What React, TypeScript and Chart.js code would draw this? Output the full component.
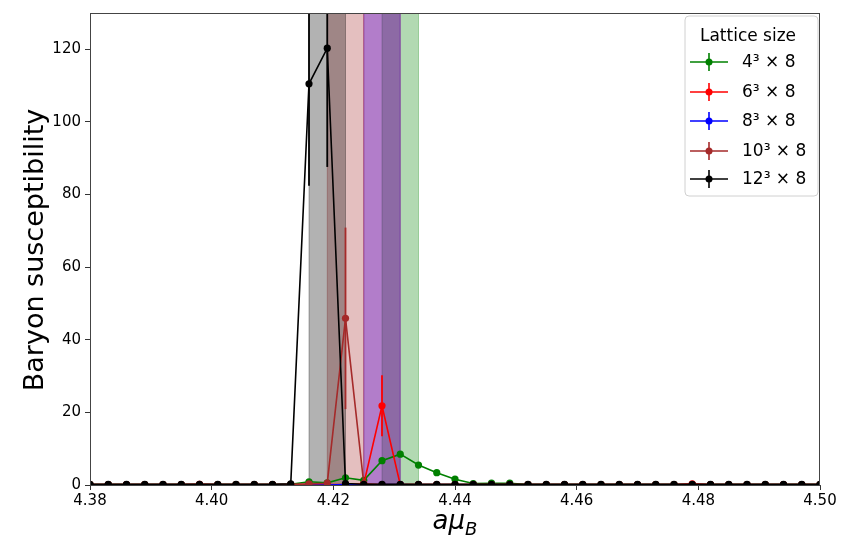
import { useEffect, useRef } from "react";
import { Chart, registerables } from "chart.js";
Chart.register(...registerables);

const muB = [
  4.380, 4.383, 4.386, 4.389, 4.392, 4.395, 4.398, 4.401, 4.404, 4.407,
  4.410, 4.413, 4.416, 4.419, 4.422, 4.425, 4.428, 4.431, 4.434, 4.437,
  4.440, 4.443, 4.446, 4.449, 4.452, 4.455, 4.458, 4.461, 4.464, 4.467,
  4.470, 4.473, 4.476, 4.479, 4.482, 4.485, 4.488, 4.491, 4.494, 4.497, 4.500,
];

const chi4 = [
  0.1, 0.1, 0.1, 0.1, 0.1, 0.1, 0.1, 0.1, 0.1, 0.1,
  0.1, 0.2, 0.9, 0.6, 2.0, 1.3, 6.7, 8.5, 5.5, 3.4,
  1.6, 0.4, 0.5, 0.5, 0.1, 0.1, 0.1, 0.1, 0.1, 0.1,
  0.1, 0.1, 0.1, 0.1, 0.1, 0.1, 0.1, 0.1, 0.1, 0.1, 0.1,
];
const err4 = [
  0, 0, 0, 0, 0, 0, 0, 0, 0, 0,
  0, 0, 0.2, 0.2, 0.4, 0.3, 0.5, 0.6, 0.6, 0.4,
  0.2, 0.1, 0.1, 0.1, 0, 0, 0, 0, 0, 0,
  0, 0, 0, 0, 0, 0, 0, 0, 0, 0, 0,
];

const chi6 = [
  0.1, 0.1, 0.1, 0.1, 0.1, 0.1, 0.2, 0.1, 0.1, 0.1,
  0.1, 0.1, 0.1, 0.1, 0.1, 0.3, 21.8, 0.1, 0.1, 0.1,
  0.1, 0.1, 0.1, 0.1, 0.1, 0.1, 0.1, 0.1, 0.1, 0.1,
  0.1, 0.1, 0.1, 0.3, 0.1, 0.1, 0.1, 0.1, 0.1, 0.1, 0.1,
];
const err6 = [
  0, 0, 0, 0, 0, 0, 0, 0, 0, 0,
  0, 0, 0, 0, 0, 0.1, 8.4, 0, 0, 0,
  0, 0, 0, 0, 0, 0, 0, 0, 0, 0,
  0, 0, 0, 0, 0, 0, 0, 0, 0, 0, 0,
];

const chi8 = [
  0.0, 0.0, 0.0, 0.0, 0.0, 0.0, 0.0, 0.0, 0.0, 0.0,
  0.0, 0.0, 0.0, 0.0, 0.1, 0.0, 0.1, 0.1, 0.0, 0.0,
  0.0, 0.0, 0.0, 0.0, 0.0, 0.0, 0.0, 0.0, 0.0, 0.0,
  0.0, 0.0, 0.0, 0.0, 0.0, 0.0, 0.0, 0.0, 0.0, 0.0, 0.0,
];
const err8 = [
  0, 0, 0, 0, 0, 0, 0, 0, 0, 0,
  0, 0, 0, 0, 0, 0, 0, 0, 0, 0,
  0, 0, 0, 0, 0, 0, 0, 0, 0, 0,
  0, 0, 0, 0, 0, 0, 0, 0, 0, 0, 0,
];

const chi10 = [
  0.1, 0.1, 0.1, 0.1, 0.1, 0.1, 0.2, 0.1, 0.1, 0.1,
  0.1, 0.1, 0.3, 0.5, 45.9, 0.4, 0.1, 0.1, 0.1, 0.1,
  0.1, 0.1, 0.1, 0.1, 0.1, 0.1, 0.1, 0.1, 0.1, 0.1,
  0.1, 0.1, 0.1, 0.1, 0.1, 0.1, 0.1, 0.1, 0.1, 0.1, 0.1,
];
const err10 = [
  0, 0, 0, 0, 0, 0, 0, 0, 0, 0,
  0, 0, 0.1, 0.2, 25.0, 0.2, 0, 0, 0, 0,
  0, 0, 0, 0, 0, 0, 0, 0, 0, 0,
  0, 0, 0, 0, 0, 0, 0, 0, 0, 0, 0,
];

const chi12 = [
  0.2, 0.2, 0.2, 0.2, 0.2, 0.2, 0.2, 0.2, 0.2, 0.2,
  0.2, 0.3, 110.5, 120.3, 0.4, 0.2, 0.2, 0.2, 0.2, 0.2,
  0.2, 0.2, 0.2, 0.2, 0.2, 0.2, 0.2, 0.2, 0.2, 0.2,
  0.2, 0.2, 0.2, 0.2, 0.2, 0.2, 0.2, 0.2, 0.2, 0.2, 0.2,
];
const err12 = [
  0, 0, 0, 0, 0, 0, 0, 0, 0, 0,
  0, 0, 28.1, 32.7, 0.1, 0, 0, 0, 0, 0,
  0, 0, 0, 0, 0, 0, 0, 0, 0, 0,
  0, 0, 0, 0, 0, 0, 0, 0, 0, 0, 0,
];

const seriesLabels = ["4³ × 8", "6³ × 8", "8³ × 8", "10³ × 8", "12³ × 8"];
const seriesColors = ["#008000", "#ff0000", "#0000ff", "#a52a2a", "#000000"];
const bandColors = [
  "rgba(0,128,0,0.3)",
  "rgba(255,0,0,0.3)",
  "rgba(0,0,255,0.3)",
  "rgba(165,42,42,0.3)",
  "rgba(0,0,0,0.3)",
];
const bandLow = [4.428, 4.425, 4.425, 4.419, 4.416];
const bandHigh = [4.434, 4.431, 4.431, 4.425, 4.422];
const xTicks = [4.38, 4.4, 4.42, 4.44, 4.46, 4.48, 4.5];
const yTicks = [0, 20, 40, 60, 80, 100, 120];
const legendTitle = "Lattice size";
const yTitle = "Baryon susceptibility";

const allValues = [chi4, chi6, chi8, chi10, chi12];
const allErrors = [err4, err6, err8, err10, err12];

const FONT = "'DejaVu Sans', sans-serif";

const customPlugin = {
  id: "custom",
  beforeDatasetsDraw(chart: any) {
    const { ctx, chartArea, scales } = chart;
    const x = scales.x;
    ctx.save();
    ctx.beginPath();
    ctx.rect(chartArea.left, chartArea.top, chartArea.right - chartArea.left, chartArea.bottom - chartArea.top);
    ctx.clip();
    for (let i = 0; i < bandLow.length; i++) {
      const x0 = x.getPixelForValue(bandLow[i]);
      const x1 = x.getPixelForValue(bandHigh[i]);
      ctx.fillStyle = bandColors[i];
      ctx.fillRect(x0, chartArea.top, x1 - x0, chartArea.bottom - chartArea.top);
      ctx.strokeStyle = bandColors[i];
      ctx.lineWidth = 1;
      ctx.strokeRect(x0, chartArea.top - 2, x1 - x0, chartArea.bottom - chartArea.top + 4);
    }
    ctx.restore();
  },
  afterDatasetDraw(chart: any, args: any) {
    const i = args.index;
    const { ctx, chartArea, scales } = chart;
    const xs = scales.x;
    const ys = scales.y;
    const vals = allValues[i];
    const errs = allErrors[i];
    ctx.save();
    ctx.beginPath();
    ctx.rect(chartArea.left, chartArea.top, chartArea.right - chartArea.left, chartArea.bottom - chartArea.top);
    ctx.clip();
    ctx.strokeStyle = seriesColors[i];
    ctx.lineWidth = 1.8;
    for (let k = 0; k < muB.length; k++) {
      if (!errs[k]) continue;
      const px = xs.getPixelForValue(muB[k]);
      const y0 = ys.getPixelForValue(vals[k] - errs[k]);
      const y1 = ys.getPixelForValue(vals[k] + errs[k]);
      ctx.beginPath();
      ctx.moveTo(px, y0);
      ctx.lineTo(px, y1);
      ctx.stroke();
    }
    ctx.restore();
  },
  afterDraw(chart: any) {
    const { ctx, chartArea } = chart;
    ctx.save();
    // frame
    ctx.strokeStyle = "#444";
    ctx.lineWidth = 1;
    ctx.strokeRect(
      Math.round(chartArea.left) + 0.5,
      Math.round(chartArea.top) + 0.5,
      Math.round(chartArea.right - chartArea.left) - 1,
      Math.round(chartArea.bottom - chartArea.top)
    );

    // y title
    ctx.fillStyle = "#000";
    ctx.font = `27px ${FONT}`;
    ctx.textAlign = "center";
    ctx.textBaseline = "alphabetic";
    ctx.translate(43, 250);
    ctx.rotate(-Math.PI / 2);
    ctx.fillText(yTitle, 0, 0);
    ctx.setTransform(1, 0, 0, 1, 0, 0);

    // x title: a mu_B
    ctx.textAlign = "left";
    ctx.textBaseline = "alphabetic";
    ctx.font = `italic 26px ${FONT}`;
    const main = "aμ";
    const wMain = ctx.measureText(main).width;
    ctx.font = `italic 18px ${FONT}`;
    const wSub = ctx.measureText("B").width;
    const total = wMain + wSub;
    const startX = 455 - total / 2;
    ctx.font = `italic 26px ${FONT}`;
    ctx.fillText(main, startX, 529);
    ctx.font = `italic 18px ${FONT}`;
    ctx.fillText("B", startX + wMain, 535);

    // legend
    const lx = 685, ly = 16, lw = 133, lh = 180;
    ctx.beginPath();
    const r = 4;
    ctx.moveTo(lx + r, ly);
    ctx.lineTo(lx + lw - r, ly);
    ctx.quadraticCurveTo(lx + lw, ly, lx + lw, ly + r);
    ctx.lineTo(lx + lw, ly + lh - r);
    ctx.quadraticCurveTo(lx + lw, ly + lh, lx + lw - r, ly + lh);
    ctx.lineTo(lx + r, ly + lh);
    ctx.quadraticCurveTo(lx, ly + lh, lx, ly + lh - r);
    ctx.lineTo(lx, ly + r);
    ctx.quadraticCurveTo(lx, ly, lx + r, ly);
    ctx.closePath();
    ctx.fillStyle = "rgba(255,255,255,0.8)";
    ctx.fill();
    ctx.strokeStyle = "#d0d0d0";
    ctx.lineWidth = 1;
    ctx.stroke();

    ctx.fillStyle = "#000";
    ctx.font = `17px ${FONT}`;
    ctx.textAlign = "center";
    ctx.textBaseline = "alphabetic";
    ctx.fillText(legendTitle, 748, 41);

    const rowsY = [62, 92, 121, 151, 179];
    for (let i = 0; i < seriesLabels.length; i++) {
      const cy = rowsY[i];
      ctx.strokeStyle = seriesColors[i];
      ctx.fillStyle = seriesColors[i];
      ctx.lineWidth = 1.6;
      ctx.beginPath();
      ctx.moveTo(690, cy);
      ctx.lineTo(728, cy);
      ctx.stroke();
      ctx.beginPath();
      ctx.moveTo(709, cy - 9);
      ctx.lineTo(709, cy + 9);
      ctx.stroke();
      ctx.beginPath();
      ctx.arc(709, cy, 3.5, 0, Math.PI * 2);
      ctx.fill();
      ctx.fillStyle = "#000";
      ctx.font = `17px ${FONT}`;
      ctx.textAlign = "left";
      ctx.textBaseline = "middle";
      ctx.fillText(seriesLabels[i], 742, cy + 1);
    }
    ctx.restore();
  },
};

export default function App() {
  const canvasRef = useRef<HTMLCanvasElement | null>(null);

  useEffect(() => {
    document.body.style.margin = "0";
    const canvas = canvasRef.current;
    if (!canvas) return;
    const orders = [4, 3, 2, 1, 0];
    const datasets = allValues.map((vals, i) => ({
      label: seriesLabels[i],
      data: muB.map((m, k) => ({ x: m, y: vals[k] })),
      borderColor: seriesColors[i],
      backgroundColor: seriesColors[i],
      pointBackgroundColor: seriesColors[i],
      pointBorderWidth: 0,
      pointRadius: 3.6,
      borderWidth: 1.6,
      tension: 0,
      fill: false,
      order: orders[i],
    }));
    const chart = new Chart(canvas, {
      type: "line",
      data: { datasets },
      options: {
        animation: false,
        responsive: false,
        devicePixelRatio: 1,
        layout: { padding: { left: 0, right: 34, top: 12, bottom: 0 } },
        plugins: {
          legend: { display: false },
          tooltip: { enabled: false },
        },
        scales: {
          x: {
            type: "linear",
            min: 4.38,
            max: 4.5,
            afterBuildTicks: (s: any) => {
              s.ticks = xTicks.map((v) => ({ value: v }));
            },
            afterFit: (s: any) => {
              s.height = 59;
            },
            ticks: {
              color: "#000",
              font: { family: FONT, size: 15 },
              padding: 2,
              maxRotation: 0,
              autoSkip: false,
              callback: (v: any) => Number(v).toFixed(2),
            },
            grid: {
              drawOnChartArea: false,
              drawTicks: true,
              tickLength: 5,
              color: "#333",
            },
            border: { display: true, color: "#444" },
          },
          y: {
            type: "linear",
            min: 0,
            max: 130,
            afterBuildTicks: (s: any) => {
              s.ticks = yTicks.map((v) => ({ value: v }));
            },
            afterFit: (s: any) => {
              s.width = 90;
            },
            ticks: {
              color: "#000",
              font: { family: FONT, size: 15 },
              padding: 4,
              callback: (v: any) => String(v),
            },
            grid: {
              drawOnChartArea: false,
              drawTicks: true,
              tickLength: 5,
              color: "#333",
            },
            border: { display: true, color: "#444" },
          },
        },
      },
      plugins: [customPlugin],
    } as any);
    return () => chart.destroy();
  }, []);

  return (
    <div style={{ position: "absolute", left: 0, top: 0, width: 854, height: 544 }}>
      <canvas ref={canvasRef} width={854} height={544} style={{ display: "block", width: 854, height: 544 }} />
    </div>
  );
}
